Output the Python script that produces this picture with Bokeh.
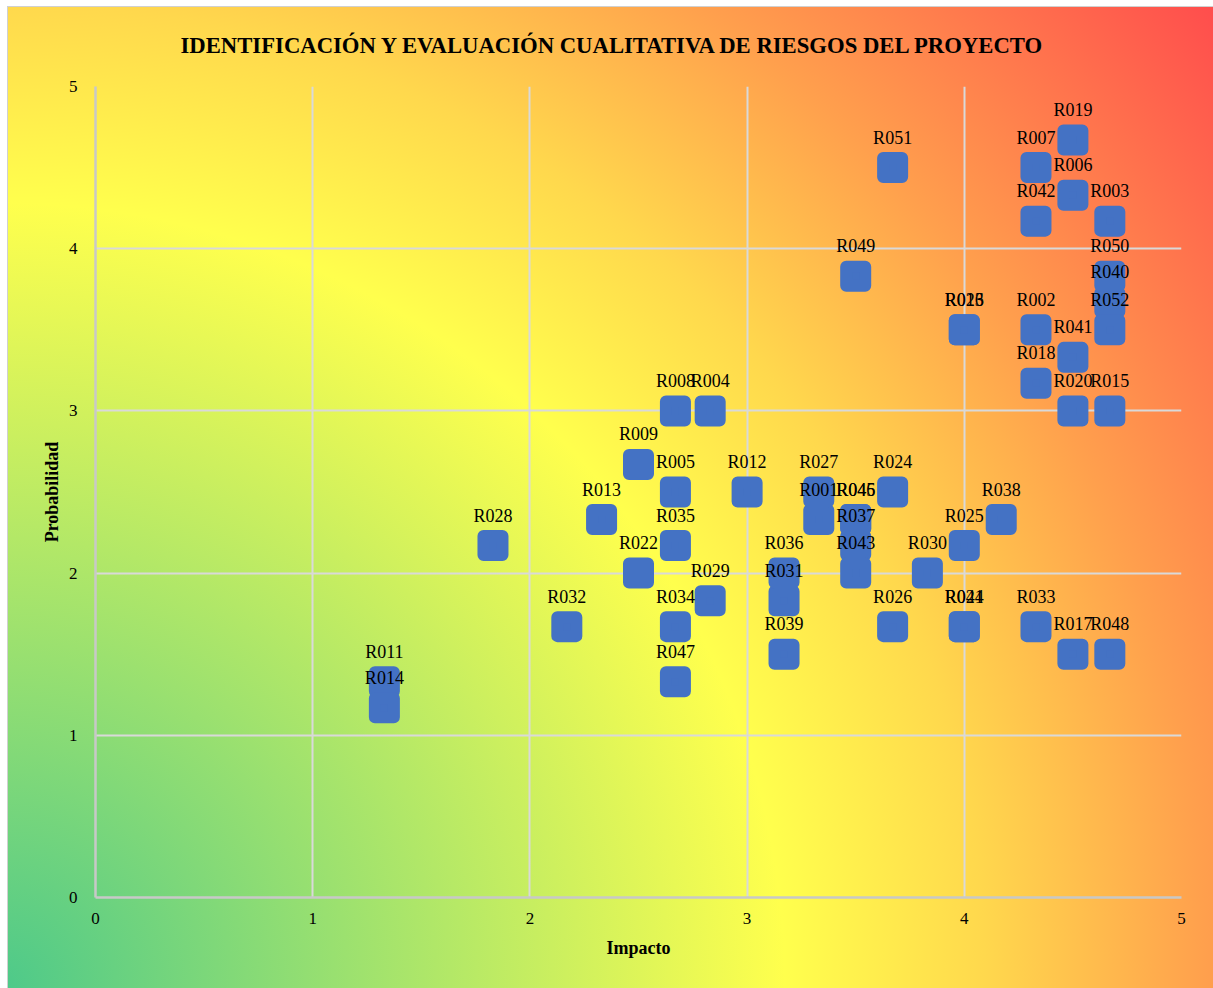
from bokeh.plotting import figure
from bokeh.models import ColumnDataSource, Range1d, FixedTicker
from bokeh.core.properties import value
from bokeh.embed import file_html
from bokeh.resources import INLINE

ids = ["R001", "R002", "R003", "R004", "R005", "R006", "R007", "R008", "R009",
       "R011", "R012", "R013", "R014", "R015", "R016", "R017", "R018", "R019",
       "R020", "R021", "R022", "R023", "R024", "R025", "R026", "R027", "R028",
       "R029", "R030", "R031", "R032", "R033", "R034", "R035", "R036", "R037",
       "R038", "R039", "R040", "R041", "R042", "R043", "R044", "R045", "R046",
       "R047", "R048", "R049", "R050", "R051", "R052"]
impacto = [3.33, 4.33, 4.67, 2.83, 2.67, 4.5, 4.33, 2.67, 2.5,
           1.33, 3.0, 2.33, 1.33, 4.67, 4.0, 4.5, 4.33, 4.5,
           4.5, 4.0, 2.5, 4.0, 3.67, 4.0, 3.67, 3.33, 1.83,
           2.83, 3.83, 3.17, 2.17, 4.33, 2.67, 2.67, 3.17, 3.5,
           4.17, 3.17, 4.67, 4.5, 4.33, 3.5, 4.0, 3.5, 3.5,
           2.67, 4.67, 3.5, 4.67, 3.67, 4.67]
probabilidad = [2.33, 3.5, 4.17, 3.0, 2.5, 4.33, 4.5, 3.0, 2.67,
                1.33, 2.5, 2.33, 1.17, 3.0, 3.5, 1.5, 3.17, 4.67,
                3.0, 1.67, 2.0, 3.5, 2.5, 2.17, 1.67, 2.5, 2.17,
                1.83, 2.0, 1.83, 1.67, 1.67, 1.67, 2.17, 2.0, 2.17,
                2.33, 1.5, 3.67, 3.33, 4.17, 2.0, 1.67, 2.33, 2.33,
                1.33, 1.5, 3.83, 3.83, 4.5, 3.5]
ticks = [0, 1, 2, 3, 4, 5]

title_text = "IDENTIFICACIÓN Y EVALUACIÓN CUALITATIVA DE RIESGOS DEL PROYECTO"
serif = "Liberation Serif"

src = ColumnDataSource(dict(x=impacto, y=probabilidad, label=ids))

p = figure(width=1213, height=988, output_backend="svg", toolbar_location=None,
           x_range=Range1d(0, 5), y_range=Range1d(0, 5),
           min_border_left=95, min_border_right=32, min_border_top=86, min_border_bottom=91,
           title=title_text)

p.styles = {
    "background": "radial-gradient(circle at 0px 988px, #4DC98A 0px, #FFFF4D 785px, "
                  "#FFD84D 985px, #FFA04D 1205px, #FF4D4D 1560px)",
    "box-shadow": "inset 7px 6px 0 0 #FFFFFF, inset 8px 7px 0 0 #D0D0D0",
}
p.border_fill_color = None
p.background_fill_color = None
p.outline_line_color = None

p.title.text_font = serif
p.title.text_font_size = "22.7px"
p.title.text_font_style = "bold"
p.title.text_color = "black"
p.title.align = "left"
p.title.offset = 85
p.title.standoff = 58

for ax in (p.xaxis[0], p.yaxis[0]):
    ax.ticker = FixedTicker(ticks=ticks)
    ax.major_tick_line_color = None
    ax.minor_tick_line_color = None
    ax.axis_line_color = "#C8C8C8"
    ax.axis_line_width = 2.5
    ax.major_label_text_font = serif
    ax.major_label_text_font_size = "17px"
    ax.major_label_text_color = "black"
    ax.axis_label_text_font = serif
    ax.axis_label_text_font_size = "18px"
    ax.axis_label_text_font_style = "bold"
    ax.axis_label_text_color = "black"

p.xaxis.axis_label = "Impacto"
p.yaxis.axis_label = "Probabilidad"
p.xaxis.major_label_standoff = 9
p.xaxis.axis_label_standoff = 11
p.yaxis.major_label_standoff = 12
p.yaxis.axis_label_standoff = 4

for g in (p.xgrid[0], p.ygrid[0]):
    g.ticker = FixedTicker(ticks=ticks)
    g.grid_line_color = "#D9D9D9"
    g.grid_line_width = 2

p.scatter("x", "y", source=src, marker="square", size=19, line_width=12,
          fill_color="#4472C4", line_color="#4472C4", line_join="round")

p.text("x", "y", text="label", source=src, text_align="center",
       text_baseline="alphabetic", y_offset=-30, text_font_size="18px",
       text_font=value(serif), text_color="black")

open("out.html", "w").write(file_html(p, INLINE))
